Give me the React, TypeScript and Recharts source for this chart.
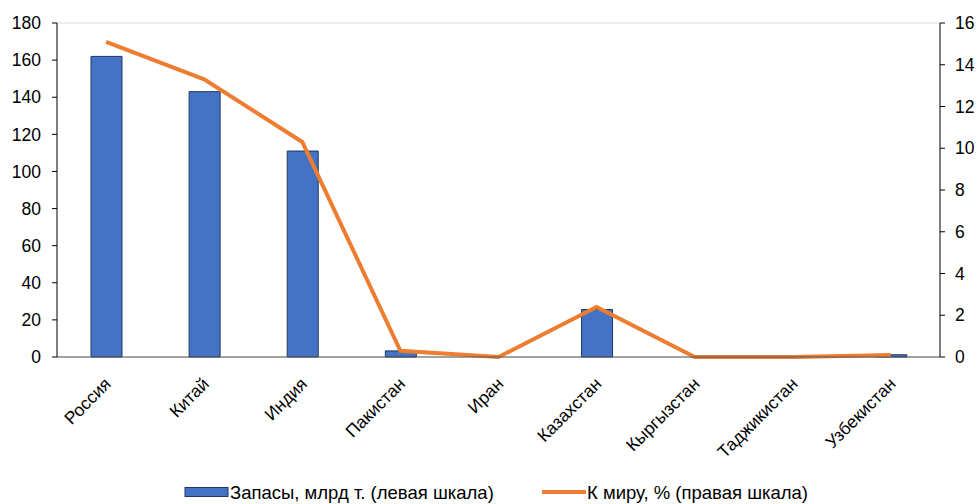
import React from 'react'
import {
  ComposedChart,
  Bar,
  Line,
  XAxis,
  YAxis,
  CartesianGrid,
  Legend,
} from 'recharts'

const countries = [
  'Россия',
  'Китай',
  'Индия',
  'Пакистан',
  'Иран',
  'Казахстан',
  'Кыргызстан',
  'Таджикистан',
  'Узбекистан',
]
const reserves = [162, 143, 111, 3.3, 0, 25.6, 0, 0, 1.2]
const worldShare = [15.1, 13.3, 10.3, 0.3, 0, 2.4, 0, 0, 0.1]
const leftTicks = [0, 20, 40, 60, 80, 100, 120, 140, 160, 180]
const rightTicks = [0, 2, 4, 6, 8, 10, 12, 14, 16]

const data = countries.map((name, i) => ({
  name,
  reserves: reserves[i],
  share: worldShare[i],
}))

const FONT = 'Liberation Sans, Arial, sans-serif'

const CategoryTick = (props: any) => {
  const { x, y, payload } = props
  const tx = x + 6
  const ty = y + 20
  return (
    <text
      x={tx}
      y={ty}
      transform={`rotate(-45, ${tx}, ${ty})`}
      textAnchor="end"
      fontSize={17.5}
      fontFamily={FONT}
      fill="#000"
    >
      {payload.value}
    </text>
  )
}

const LegendContent = () => (
  <svg width={980} height={32} style={{ display: 'block' }}>
    <rect x={185} y={15.5} width={43} height={9} fill="#4472C4" stroke="#1f3763" strokeWidth={1} />
    <text x={230} y={27} fontSize={18.5} fontFamily={FONT} fill="#000">
      Запасы, млрд т. (левая шкала)
    </text>
    <line x1={542} y1={20} x2={586} y2={20} stroke="#ED7D31" strokeWidth={4} />
    <text x={587} y={27} fontSize={18.5} fontFamily={FONT} fill="#000">
      К миру, % (правая шкала)
    </text>
  </svg>
)

export default function App() {
  return (
    <div style={{ position: 'absolute', left: 0, top: 0, width: 980, height: 504, background: '#fff' }}>
      <ComposedChart
        width={980}
        height={504}
        data={data}
        margin={{ top: 23, right: 0, bottom: 0, left: 0 }}
      >
        <CartesianGrid vertical={false} stroke="#d9d9d9" strokeWidth={1} />
        <XAxis
          dataKey="name"
          tick={<CategoryTick />}
          tickLine={false}
          axisLine={{ stroke: '#595959', strokeWidth: 1 }}
          interval={0}
          height={115}
        />
        <YAxis
          yAxisId="left"
          domain={[0, 180]}
          ticks={leftTicks}
          width={57}
          tick={{ fontSize: 17.5, fontFamily: FONT, fill: '#000' }}
          tickLine={{ stroke: '#000' }}
          tickSize={5}
          tickMargin={11}
          axisLine={{ stroke: '#000' }}
        />
        <YAxis
          yAxisId="right"
          orientation="right"
          domain={[0, 16]}
          ticks={rightTicks}
          width={40}
          tick={{ fontSize: 17.5, fontFamily: FONT, fill: '#000' }}
          tickLine={{ stroke: '#000' }}
          tickSize={5}
          tickMargin={10}
          axisLine={{ stroke: '#000' }}
        />
        <Legend verticalAlign="bottom" height={32} content={<LegendContent />} />
        <Bar
          yAxisId="left"
          dataKey="reserves"
          fill="#4472C4"
          stroke="#1f3763"
          strokeWidth={1}
          barSize={31}
          isAnimationActive={false}
        />
        <Line
          yAxisId="right"
          dataKey="share"
          type="linear"
          stroke="#ED7D31"
          strokeWidth={4}
          dot={false}
          activeDot={false}
          isAnimationActive={false}
        />
      </ComposedChart>
    </div>
  )
}
